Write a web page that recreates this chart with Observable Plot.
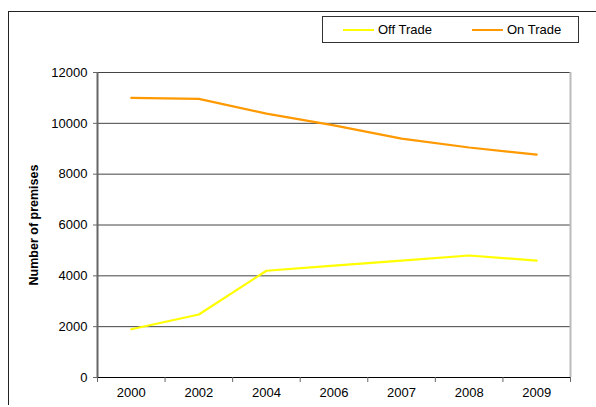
<!DOCTYPE html>
<html>
<head>
<meta charset="utf-8">
<script src="https://cdn.jsdelivr.net/npm/d3@7"></script>
<script src="https://cdn.jsdelivr.net/npm/@observablehq/plot@0.6"></script>
<style>
  html, body { margin: 0; padding: 0; background: #fff; }
  body { width: 596px; height: 407px; position: relative; overflow: hidden; font-family: "Liberation Sans", Arial, sans-serif; }
  #frame { position: absolute; left: 8px; top: 11px; width: 600px; height: 394px; border-left: 1.5px solid #222; border-top: 1.5px solid #222; box-sizing: border-box; }
  #chart { position: absolute; left: 0; top: 0; }
  #legend { position: absolute; left: 322px; top: 16px; width: 257px; height: 27px; border: 1px solid #333; box-sizing: border-box; background: #fff; font-size: 13px; color: #000; }
  .item { position: absolute; top: 0; height: 25px; line-height: 25px; white-space: nowrap; }
  .sw { display: inline-block; width: 31px; height: 2px; vertical-align: middle; margin-right: 4px; position: relative; top: -1px; }
</style>
</head>
<body>
<div id="frame"></div>
<div id="chart"></div>
<div id="legend"></div>
<script>
const years = ["2000", "2002", "2004", "2006", "2007", "2008", "2009"];
const offTrade = [1900, 2480, 4200, 4400, 4600, 4800, 4600];
const onTrade = [11000, 10960, 10380, 9920, 9400, 9050, 8770];
const seriesNames = ["Off Trade", "On Trade"];
const seriesColors = ["#FFFF00", "#FF9900"];
const yTicks = [0, 2000, 4000, 6000, 8000, 10000, 12000];

const data = [];
years.forEach((yr, i) => {
  data.push({series: seriesNames[0], idx: i + 0.5, value: offTrade[i]});
  data.push({series: seriesNames[1], idx: i + 0.5, value: onTrade[i]});
});
const xDomain = [0, years.length];
const centers = years.map((_, i) => i + 0.5);
const bounds = d3.range(years.length + 1);

const plot = Plot.plot({
  width: 596,
  height: 407,
  marginLeft: 97,
  marginRight: 26,
  marginTop: 72,
  marginBottom: 30,
  style: {fontFamily: "'Liberation Sans', Arial, sans-serif", fontSize: "13px", color: "#000", background: "transparent"},
  x: {type: "linear", domain: xDomain},
  y: {domain: [0, 12000]},
  color: {domain: seriesNames, range: seriesColors},
  marks: [
    Plot.ruleY(yTicks.slice(1), {stroke: "#444", strokeWidth: 1}),
    Plot.ruleX([xDomain[1]], {stroke: "#bbb", strokeWidth: 2}),
    Plot.ruleX([xDomain[0]], {stroke: "#666", strokeWidth: 2}),
    Plot.ruleY([0], {stroke: "#000", strokeWidth: 1.2}),
    Plot.axisY({ticks: yTicks, tickSize: 4, tickPadding: 6, tickFormat: d => String(d), stroke: "#666", label: null}),
    Plot.axisX({ticks: bounds, tickSize: 5, tickFormat: () => "", stroke: "#666", label: null}),
    Plot.axisX({ticks: centers, tickSize: 0, tickPadding: 10, tickFormat: d => years[Math.round(d - 0.5)], label: null}),
    Plot.line(data, {x: "idx", y: "value", z: "series", stroke: "series", strokeWidth: 2.2}),
    Plot.text(["Number of premises"], {frameAnchor: "left", textAnchor: "middle", dx: -64, rotate: -90, text: d => d, fontWeight: "bold", fontSize: 12.5, fill: "#000"})
  ]
});
document.getElementById("chart").appendChild(plot);

const legend = document.getElementById("legend");
const lefts = [20, 149];
seriesNames.forEach((name, i) => {
  const it = document.createElement("div");
  it.className = "item";
  it.style.left = lefts[i] + "px";
  it.innerHTML = `<span class="sw" style="background:${seriesColors[i]}"></span>${name}`;
  legend.appendChild(it);
});
</script>
</body>
</html>
